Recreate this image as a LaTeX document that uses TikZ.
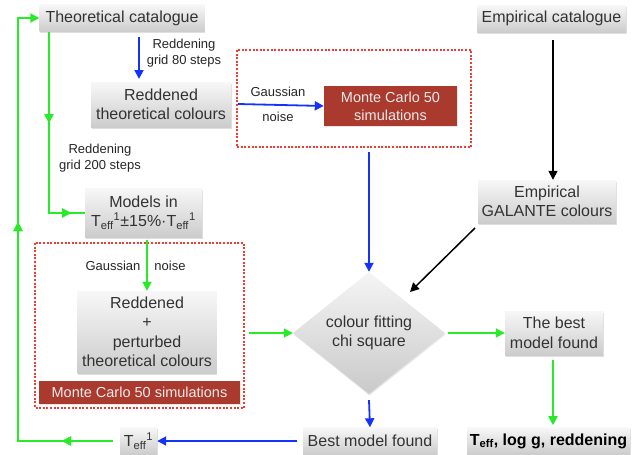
\documentclass[tikz,border=0pt]{standalone}
\usepackage{fontspec}
\setmainfont{Liberation Sans}
\usetikzlibrary{arrows.meta,shapes.geometric,shadows,decorations.markings,calc}
\definecolor{gr}{RGB}{40,235,40}
\definecolor{bl}{RGB}{20,50,250}
\definecolor{rd}{RGB}{240,60,50}
\definecolor{mcred}{RGB}{170,58,45}
\newcommand\boxfont{\fontsize{16}{19.5}\selectfont}
\newcommand\labfont{\fontsize{13}{16}\selectfont}
\newcommand\mcfont{\fontsize{14.5}{18}\selectfont}
\begin{document}
\begin{tikzpicture}[x=1pt,y=-1pt,
  gbox/.style={shade, top color=gray!6, bottom color=gray!40, text=black!80,
    align=center, inner sep=0pt, font=\boxfont,
    drop shadow={opacity=0.25, shadow xshift=0.5pt, shadow yshift=-1.5pt}},
  mcbox/.style={fill=mcred, text=white!92!black, align=center, inner sep=0pt, font=\mcfont,
    drop shadow={opacity=0.2, shadow xshift=0.5pt, shadow yshift=-1pt}},
  lab/.style={font=\labfont, text=black!85, align=center, inner sep=0pt},
  tip/.style={-{Triangle[length=9pt,width=9pt]}},
  gline/.style={draw=gr, line width=1.8pt},
  bline/.style={draw=bl, line width=1.8pt},
  kline/.style={draw=black, line width=1.5pt},
  dotbox/.style={draw=rd, line width=1.3pt, dash pattern=on 2pt off 1.6pt},
  midarrow/.style={postaction=decorate, decoration={markings,
    mark=at position #1 with {\arrow{Triangle[length=9pt,width=9pt]}}}},
]
\useasboundingbox (0,0) rectangle (641,455);

% dotted frames
\draw[dotbox] (237,50) rectangle (471,147);
\draw[dotbox] (35,243) rectangle (244,408);

% boxes
\node[gbox, minimum width=165, minimum height=27] (tc) at (122,18) {Theoretical catalogue};
\node[gbox, minimum width=140, minimum height=45] (rtc) at (161,104.5) {Reddened\\theoretical colours};
\node[gbox, minimum width=117, minimum height=49] (mod) at (143.5,212.5)
  {Models in\\T\textsubscript{eff}\textsuperscript{1}±15\%·T\textsubscript{eff}\textsuperscript{1}};
\node[mcbox, minimum width=133, minimum height=40] (mc1) at (390.5,106) {Monte Carlo 50\\simulations};
\node[gbox, minimum width=149, minimum height=27] (ec) at (551.5,18.5) {Empirical catalogue};
\node[gbox, minimum width=138, minimum height=43] (egc) at (547,201.5) {Empirical\\GALANTE colours};
\node[gbox, minimum width=139, minimum height=82] (rp) at (147,332) {Reddened\\+\\perturbed\\theoretical colours};
\node[mcbox, minimum width=201, minimum height=23] (mc2) at (139.5,392.5) {Monte Carlo 50 simulations};
\node[diamond, aspect=1.245, shade, top color=gray!8, bottom color=gray!42, text=black!80,
  align=center, inner sep=0pt, minimum width=152, minimum height=122, font=\boxfont,
  drop shadow={opacity=0.2, shadow xshift=0.5pt, shadow yshift=-1.5pt}] (dia) at (369,333)
  {colour fitting\\chi square};
\node[gbox, minimum width=98, minimum height=44] (best) at (554,333) {The best\\model found};
\node[gbox, minimum width=163, minimum height=27, font=\boxfont\bfseries, text=black] (res) at (548.5,441)
  {T\textsubscript{eff}, log g, reddening};
\node[gbox, minimum width=134, minimum height=27] (bmf) at (370,441) {Best model found};
\node[gbox, minimum width=37, minimum height=27] (teff) at (138.5,441) {T\textsubscript{eff}\textsuperscript{1}};

% labels
\node[lab] (l80) at (184,53) {Reddening\\grid 80 steps};
\node[lab] (l200) at (100,158) {Reddening\\grid 200 steps};
\node[lab] (lg1) at (278,92) {Gaussian};
\node[lab] (ln1) at (278,117) {noise};
\node[lab] (lg2) at (113,266) {Gaussian};
\node[lab] (ln2) at (170,266) {noise};

% coordinates
\coordinate (c1) at (49,32);
\coordinate (c2) at (49,213);
\coordinate (c3) at (113,441);
\coordinate (c4) at (18,441);
\coordinate (c5) at (18,18);

% green connectors
\draw[gline, midarrow=91pt, midarrow=203pt] (c1) -- (c2) -- (mod.west |- c2);
\draw[gline, tip] ($(rp.north |- mod.south)+(0,3)$) -- (rp.north);
\draw[gline, tip] (249,333) -- (dia.west);
\draw[gline, tip] (dia.east) ++(3,0) -- (best.west);
\draw[gline, tip] ($(best.south)+(-1,5)$) -- ($(best.south)+(-1,70)$);
\draw[gline, midarrow=51pt, midarrow=314pt, tip] (c3) -- (c4) -- (c5) -- (tc.west);

% blue connectors
\draw[bline, tip] (139,37) -- (139,79);
\draw[bline, tip] (238,104) -- (mc1.west);
\draw[bline, tip] (369,152) -- (dia.north);
\draw[bline, tip] (dia.south) ++(0,6) -- (bmf.north);
\draw[bline, tip] (bmf.west) ++(-6,0) -- (teff.east);

% black connectors
\draw[kline, tip] (553,40) -- (egc.north -| 553,0);
\draw[kline, tip] (475,228) -- (410,292);
\end{tikzpicture}
\end{document}
